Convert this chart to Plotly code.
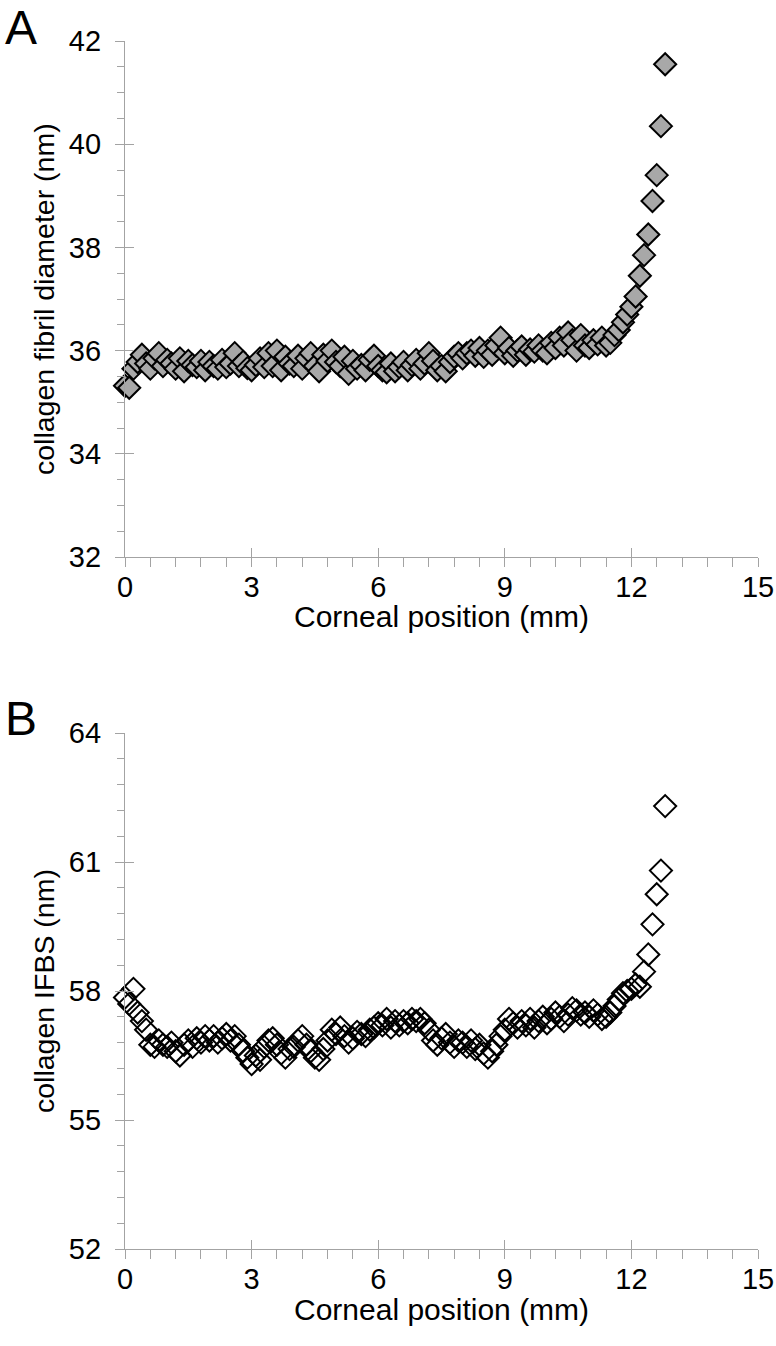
import plotly.graph_objects as go

# ---------------- data ----------------
position_mm = [
    0.0, 0.1, 0.2, 0.3, 0.4, 0.5, 0.6, 0.7, 0.8, 0.9,
    1.0, 1.1, 1.2, 1.3, 1.4, 1.5, 1.6, 1.7, 1.8, 1.9,
    2.0, 2.1, 2.2, 2.3, 2.4, 2.5, 2.6, 2.7, 2.8, 2.9,
    3.0, 3.1, 3.2, 3.3, 3.4, 3.5, 3.6, 3.7, 3.8, 3.9,
    4.0, 4.1, 4.2, 4.3, 4.4, 4.5, 4.6, 4.7, 4.8, 4.9,
    5.0, 5.1, 5.2, 5.3, 5.4, 5.5, 5.6, 5.7, 5.8, 5.9,
    6.0, 6.1, 6.2, 6.3, 6.4, 6.5, 6.6, 6.7, 6.8, 6.9,
    7.0, 7.1, 7.2, 7.3, 7.4, 7.5, 7.6, 7.7, 7.8, 7.9,
    8.0, 8.1, 8.2, 8.3, 8.4, 8.5, 8.6, 8.7, 8.8, 8.9,
    9.0, 9.1, 9.2, 9.3, 9.4, 9.5, 9.6, 9.7, 9.8, 9.9,
    10.0, 10.1, 10.2, 10.3, 10.4, 10.5, 10.6, 10.7, 10.8, 10.9,
    11.0, 11.1, 11.2, 11.3, 11.4, 11.5, 11.6, 11.7, 11.8, 11.9,
    12.0, 12.1, 12.2, 12.3, 12.4, 12.5, 12.6, 12.7, 12.8,
]

fibril_diameter_nm = [
    35.32, 35.28, 35.65, 35.78, 35.92, 35.75, 35.65, 35.85, 35.95, 35.70,
    35.82, 35.75, 35.65, 35.85, 35.60, 35.80, 35.72, 35.68, 35.80, 35.62,
    35.78, 35.70, 35.65, 35.82, 35.68, 35.75, 35.95, 35.70, 35.78, 35.66,
    35.62, 35.72, 35.85, 35.68, 35.95, 35.70, 36.00, 35.62, 35.88, 35.75,
    35.70, 35.90, 35.65, 35.85, 35.95, 35.70, 35.60, 35.92, 35.80, 36.00,
    35.78, 35.70, 35.88, 35.55, 35.80, 35.65, 35.72, 35.62, 35.82, 35.90,
    35.70, 35.62, 35.58, 35.75, 35.60, 35.68, 35.78, 35.62, 35.72, 35.82,
    35.65, 35.75, 35.95, 35.80, 35.62, 35.70, 35.60, 35.78, 35.88, 35.95,
    35.85, 35.95, 36.00, 35.90, 36.05, 35.88, 36.00, 35.92, 36.10, 36.25,
    35.95, 36.05, 35.90, 36.00, 36.08, 35.92, 36.02, 35.98, 36.10, 36.00,
    35.95, 36.15, 36.05, 36.25, 36.10, 36.35, 36.20, 36.00, 36.30, 36.10,
    36.05, 36.20, 36.12, 36.25, 36.10, 36.15, 36.30, 36.40, 36.55, 36.70,
    36.85, 37.05, 37.45, 37.85, 38.25, 38.90, 39.40, 40.35, 41.55,
]

ifbs_nm = [
    57.85, 57.70, 58.05, 57.50, 57.30, 57.10, 56.75, 56.70, 56.85, 56.75,
    56.70, 56.80, 56.60, 56.50, 56.75, 56.85, 56.70, 56.90, 56.80, 56.95,
    56.85, 56.95, 56.80, 56.90, 57.00, 56.85, 56.95, 56.75, 56.60, 56.45,
    56.30, 56.50, 56.40, 56.70, 56.85, 56.90, 56.75, 56.55, 56.45, 56.65,
    56.70, 56.85, 56.95, 56.75, 56.60, 56.45, 56.40, 56.65, 56.85, 57.10,
    57.00, 57.15, 56.95, 56.80, 56.90, 57.05, 57.00, 56.95, 57.10, 57.15,
    57.25, 57.20, 57.35, 57.15, 57.30, 57.20, 57.30, 57.25, 57.35, 57.30,
    57.35, 57.25, 57.10, 56.85, 56.75, 56.90, 57.00, 56.80, 56.70, 56.85,
    56.80, 56.70, 56.85, 56.65, 56.75, 56.55, 56.45, 56.60, 56.75, 56.95,
    57.10, 57.35, 57.25, 57.15, 57.30, 57.20, 57.35, 57.15, 57.30, 57.40,
    57.25, 57.35, 57.50, 57.40, 57.30, 57.45, 57.60, 57.55, 57.45, 57.50,
    57.40, 57.55, 57.45, 57.35, 57.40, 57.50, 57.65, 57.80, 57.95, 58.00,
    58.05, 58.15, 58.10, 58.45, 58.85, 59.55, 60.25, 60.80, 62.30,
]

x_ticks = [0, 3, 6, 9, 12, 15]
top_y_ticks = [32, 34, 36, 38, 40, 42]
bottom_y_ticks = [52, 55, 58, 61, 64]

x_title = "Corneal position (mm)"
top_y_title = "collagen fibril diameter (nm)"
bottom_y_title = "collagen IFBS (nm)"
panel_labels = ["A", "B"]

# ---------------- layout geometry ----------------
W, H = 776, 1346
ML, MR, MT, MB = 125, 18, 41, 97
plot_h = H - MT - MB
bottom_pix = H - MB
top_dom = [(bottom_pix - 557) / plot_h, 1.0]
bot_dom = [0.0, (bottom_pix - 733) / plot_h]

FONT = "Liberation Sans, Arial, Helvetica, sans-serif"
AX = "#a3a3a3"
TICK_FONT = dict(family=FONT, size=29, color="black")

fig = go.Figure()

fig.add_trace(go.Scatter(
    x=position_mm, y=fibril_diameter_nm, mode="markers",
    marker=dict(symbol="diamond", size=17, color="#a8a8a8",
                line=dict(color="black", width=2)),
    xaxis="x", yaxis="y", cliponaxis=False, showlegend=False,
))
fig.add_trace(go.Scatter(
    x=position_mm, y=ifbs_nm, mode="markers",
    marker=dict(symbol="diamond-open", size=17, color="black",
                line=dict(color="black", width=2)),
    xaxis="x2", yaxis="y2", cliponaxis=False, showlegend=False,
))
# empty traces to create overlay axes carrying the inner halves of major ticks
for xa, ya in (("x3", "y3"), ("x4", "y4")):
    fig.add_trace(go.Scatter(x=[None], y=[None], xaxis=xa, yaxis=ya,
                             showlegend=False, hoverinfo="skip"))

def main_x(anchor):
    return dict(range=[0, 15], anchor=anchor, tickvals=x_ticks, automargin=False,
                ticks="outside", ticklen=9, tickwidth=1.3, tickcolor=AX,
                showline=True, linecolor=AX, linewidth=1.3,
                showgrid=False, zeroline=False, tickfont=TICK_FONT,
                ticklabelstandoff=-5,
                minor=dict(dtick=0.6, tick0=0, ticks="outside", ticklen=9,
                           tickwidth=1.3, tickcolor=AX, showgrid=False))

def main_y(rng, ticks, mdt, domain, anchor):
    return dict(range=rng, domain=domain, anchor=anchor, tickvals=ticks,
                automargin=False,
                ticks="outside", ticklen=9, tickwidth=1.3, tickcolor=AX,
                showline=True, linecolor=AX, linewidth=1.3,
                showgrid=False, zeroline=False, tickfont=TICK_FONT,
                ticklabelstandoff=8,
                minor=dict(dtick=mdt, tick0=rng[0], ticks="outside", ticklen=7,
                           tickwidth=1.3, tickcolor=AX, showgrid=False))

def inner_axis(rng, ticks, overlay, anchor):
    return dict(range=rng, tickvals=ticks, ticks="inside", ticklen=9,
                automargin=False,
                tickwidth=1.3, tickcolor=AX, showline=False, showgrid=False,
                zeroline=False, showticklabels=False, overlaying=overlay,
                anchor=anchor)

fig.update_layout(
    width=W, height=H, autosize=False,
    margin=dict(l=ML, r=MR, t=MT, b=MB, autoexpand=False),
    paper_bgcolor="white", plot_bgcolor="rgba(0,0,0,0)",
    font=dict(family=FONT, color="black"),
    showlegend=False,
    xaxis=main_x("y"),
    yaxis=main_y([32, 42], top_y_ticks, 0.5, top_dom, "x"),
    xaxis2=main_x("y2"),
    yaxis2=main_y([52, 64], bottom_y_ticks, 0.6, bot_dom, "x2"),
    xaxis3=inner_axis([0, 15], x_ticks, "x", "y3"),
    yaxis3=dict(inner_axis([32, 42], top_y_ticks, "y", "x3"), domain=top_dom),
    xaxis4=inner_axis([0, 15], x_ticks, "x2", "y4"),
    yaxis4=dict(inner_axis([52, 64], bottom_y_ticks, "y2", "x4"), domain=bot_dom),
)

def py(pix):
    return (bottom_pix - pix) / plot_h

def px(pix):
    return (pix - ML) / (W - ML - MR)

ann = []
for ypix in (616, 1309):
    ann.append(dict(text=x_title, x=px(441), y=py(ypix), xref="paper", yref="paper",
                    xanchor="center", yanchor="middle", showarrow=False,
                    font=dict(family=FONT, size=30, color="black")))
ann.append(dict(text=top_y_title, x=px(44), y=py(299), xref="paper", yref="paper",
                xanchor="center", yanchor="middle", textangle=-90, showarrow=False,
                font=dict(family=FONT, size=28.5, color="black")))
ann.append(dict(text=bottom_y_title, x=px(44), y=py(991), xref="paper", yref="paper",
                xanchor="center", yanchor="middle", textangle=-90, showarrow=False,
                font=dict(family=FONT, size=28.5, color="black")))
for lab, ypix in zip(panel_labels, (0, 691)):
    ann.append(dict(text=lab, x=px(21), y=py(ypix), xref="paper", yref="paper",
                    xanchor="center", yanchor="top", borderpad=0, showarrow=False,
                    font=dict(family=FONT, size=48, color="black")))
fig.update_layout(annotations=ann)

fig.write_html("out.html", config={"displayModeBar": False},
               post_script="document.body.style.margin='0px';")
